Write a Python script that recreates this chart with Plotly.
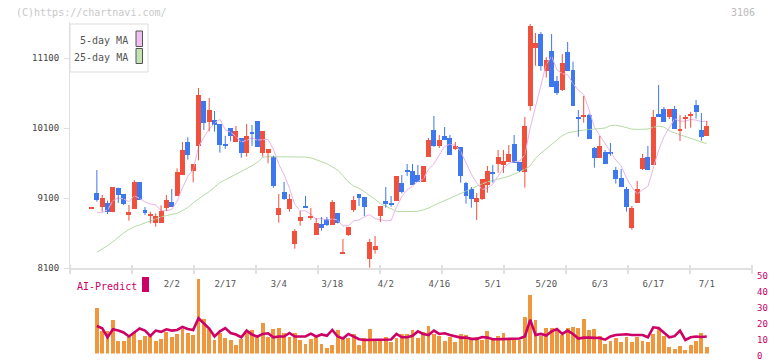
import plotly.graph_objects as go

W, H = 772, 361

# ---------------- data ----------------
tick_labels = ["2/2", "2/17", "3/4", "3/18", "4/2", "4/16", "5/1", "5/20", "6/3", "6/17", "7/1"]
tick_index = [15, 25, 35, 45, 55, 65, 75, 85, 95, 105, 115]
price_ticks = [8100, 9100, 10100, 11100]
price_tick_text = ["8100", "9100", "10100", "11100"]
ai_ticks = [0, 10, 20, 30, 40, 50]

opens = [8950, 9171, 8976, 9029, 8905, 9248, 9157, 8857, 8948, 9329,
         8929, 8848, 8748, 8748, 8962, 9043, 9133, 9433, 9900, 9490,
         9848, 10490, 10186, 10214, 10157, 9871, 10100, 9900, 9957, 9748,
         10043, 10200, 9748, 9748, 9690, 8862, 9186, 8948, 8448, 8776,
         8986, 8819, 8576, 8729, 8800, 8719, 8886, 8310, 8571, 8929,
         9157, 9114, 8233, 8362, 8843, 9057, 9029, 9062, 9314, 9500,
         9486, 9429, 9329, 9690, 10071, 9843, 9986, 9957, 9805, 9829,
         9314, 9229, 9048, 9086, 9290, 9471, 9586, 9576, 9614, 9871,
         9614, 9476, 10419, 11243, 11443, 10919, 11200, 10776, 10643, 11186,
         10929, 10257, 10252, 10290, 9814, 9676, 9757, 9757, 9500, 9386,
         9229, 8676, 9033, 9514, 9686, 9576, 10300, 10371, 10257, 10371,
         10062, 10233, 10276, 10429, 10071, 9990]
highs = [8965, 9500, 9143, 9062, 9257, 9248, 9157, 9000, 9357, 9329,
         8971, 8905, 8881, 8995, 9143, 9229, 9524, 9900, 9967, 9586,
         10671, 10490, 10529, 10343, 10157, 9986, 10100, 10129, 9957, 10157,
         10143, 10200, 10057, 9800, 9705, 9157, 9329, 9157, 8657, 8914,
         9129, 8957, 8814, 8829, 8829, 9071, 8886, 8514, 8690, 9129,
         9157, 9114, 8514, 8557, 8986, 9257, 9129, 9414, 9429, 9586,
         9586, 9571, 9557, 9957, 10271, 10000, 10114, 10000, 9900, 9829,
         9329, 9257, 9171, 9371, 9557, 9571, 9786, 9786, 9857, 10000,
         9614, 10257, 11586, 11457, 11471, 11114, 11443, 10843, 11157, 11329,
         11048, 10357, 10557, 10305, 9829, 9986, 9786, 9886, 9543, 9514,
         9257, 8986, 9343, 9729, 9843, 10357, 10714, 10400, 10371, 10414,
         10286, 10286, 10329, 10500, 10314, 10200]
lows = [8950, 9048, 8905, 8871, 8895, 9029, 9000, 8776, 8948, 9076,
        8857, 8738, 8690, 8748, 8914, 8976, 9133, 9433, 9648, 9324,
        9638, 10071, 10052, 10048, 9748, 9800, 9910, 9900, 9676, 9690,
        9843, 9833, 9690, 9595, 9248, 8748, 9071, 8905, 8376, 8705,
        8957, 8790, 8576, 8633, 8700, 8719, 8738, 8310, 8557, 8900,
        8986, 8843, 8105, 8305, 8757, 8962, 8976, 9062, 9167, 9414,
        9286, 9329, 9329, 9690, 9829, 9814, 9929, 9719, 9786, 9319,
        9019, 8962, 8786, 9071, 9176, 9319, 9462, 9457, 9614, 9605,
        9471, 9248, 10348, 10990, 10919, 10819, 10690, 10571, 10629, 10919,
        10419, 9976, 10176, 9948, 9533, 9676, 9590, 9705, 9305, 9262,
        8905, 8648, 9033, 9500, 9500, 9576, 10257, 10186, 10229, 10090,
        9914, 10090, 10105, 10233, 9919, 9990]
closes = [8960, 9076, 9105, 8905, 9257, 9148, 9019, 8900, 9329, 9076,
          8890, 8871, 8843, 8914, 9071, 8976, 9471, 9786, 9719, 9586,
          10571, 10176, 10357, 10148, 9862, 9848, 9981, 10057, 9748, 9986,
          10014, 9833, 10057, 9800, 9276, 8957, 9086, 9086, 8629, 8829,
          8962, 8829, 8743, 8671, 8719, 9043, 8748, 8319, 8690, 9071,
          9100, 8976, 8471, 8414, 8986, 9019, 9000, 9414, 9186, 9471,
          9286, 9329, 9557, 9929, 9843, 9929, 9929, 9719, 9843, 9414,
          9133, 9090, 9100, 9371, 9486, 9443, 9686, 9629, 9729, 9605,
          9486, 10129, 11557, 11314, 10986, 11071, 10690, 10605, 11029, 10919,
          10419, 10229, 10290, 9948, 9676, 9843, 9590, 9724, 9371, 9262,
          8971, 8957, 9229, 9671, 9500, 10257, 10257, 10186, 10371, 10090,
          10086, 10257, 10305, 10329, 9976, 10129]

ma5 = [None, 8895, 8895, 8930, 9061, 9098, 9087, 9046, 9131, 9094,
       9043, 9013, 9002, 8919, 8918, 8935, 9055, 9244, 9405, 9508,
       9827, 9968, 10082, 10168, 10223, 10078, 10039, 9979, 9899, 9924,
       9957, 9928, 9928, 9938, 9796, 9585, 9435, 9241, 9007, 8917,
       8918, 8867, 8798, 8807, 8785, 8801, 8785, 8700, 8704, 8774,
       8786, 8831, 8862, 8806, 8789, 8773, 8778, 8967, 9121, 9218,
       9271, 9337, 9366, 9514, 9589, 9717, 9837, 9870, 9853, 9767,
       9608, 9440, 9316, 9222, 9236, 9298, 9417, 9523, 9595, 9618,
       9627, 9716, 10101, 10418, 10694, 11011, 11124, 10933, 10876, 10863,
       10732, 10640, 10577, 10361, 10112, 9997, 9869, 9756, 9641, 9558,
       9384, 9257, 9158, 9218, 9266, 9523, 9783, 9974, 10114, 10232,
       10198, 10198, 10222, 10213, 10191, 10199]

ma25 = [None, 8324, 8370, 8420, 8475, 8540, 8600, 8650, 8690, 8715,
        8745, 8770, 8800, 8830, 8850, 8865, 8880, 8920, 8965, 9030,
        9090, 9140, 9190, 9260, 9320, 9360, 9400, 9440, 9480, 9515,
        9560, 9610, 9680, 9690, 9690, 9690, 9695, 9695, 9695, 9690,
        9685, 9675, 9650, 9625, 9590, 9545, 9500, 9420, 9330, 9270,
        9240, 9190, 9140, 9080, 9020, 8985, 8955, 8910, 8905, 8905,
        8905, 8910, 8930, 8955, 8995, 9030, 9060, 9090, 9130, 9160,
        9200, 9240, 9270, 9300, 9330, 9350, 9370, 9385, 9410, 9440,
        9475, 9510, 9560, 9670, 9740, 9800, 9860, 9930, 9990, 10030,
        10050, 10060, 10070, 10075, 10085, 10095, 10100, 10135, 10140, 10125,
        10100, 10085, 10080, 10080, 10085, 10110, 10125, 10115, 10060, 10030,
        10005, 9980, 9955, 9935, 9910, 9875]

ai_bars = [None, 28.7, 14.2, 14.2, 21.1, 7.9, 7.9, 10.4, 12.9, 8.5,
           11.0, 11.6, 7.9, 9.2, 13.5, 10.4, 12.3, 15.4, 12.9, 11.6,
           46.9, 21.7, 15.4, 8.5, 12.9, 9.8, 8.5, 5.4, 9.2, 12.9,
           14.8, 10.4, 19.2, 10.4, 15.4, 16.0, 12.9, 10.4, 12.9, 8.5,
           6.0, 9.2, 11.6, 6.0, 3.5, 5.4, 14.8, 9.8, 9.8, 12.3,
           5.4, 9.8, 15.4, 9.2, 8.2, 10.4, 7.0, 10.0, 12.3, 12.3,
           14.8, 9.8, 13.5, 17.3, 12.3, 11.0, 7.9, 10.4, 7.3, 12.3,
           11.6, 9.2, 10.4, 8.5, 14.2, 8.5, 11.0, 12.9, 9.8, 9.8,
           8.5, 23.0, 36.9, 21.1, 11.0, 16.0, 16.0, 14.8, 11.6, 16.0,
           16.7, 16.0, 21.7, 14.8, 15.4, 11.0, 6.0, 7.9, 9.8, 7.3,
           10.4, 7.3, 10.4, 7.9, 7.3, 12.3, 15.4, 11.0, 4.0, 2.8,
           4.7, 2.2, 5.4, 7.9, 12.9, 4.0]

ai_pred = [None, 17.3, 15.9, 10.2, 15.2, 14.4, 13.2, 10.7, 13.2, 15.7,
           14.4, 11.1, 14.4, 13.6, 15.2, 14.4, 14.8, 16.7, 15.4, 14.8,
           22.2, 19.0, 15.7, 10.7, 13.9, 16.0, 12.9, 11.9, 10.2, 14.4,
           11.9, 10.6, 12.3, 12.7, 10.2, 10.7, 10.7, 12.9, 10.7, 10.7,
           10.7, 12.5, 10.7, 12.0, 11.1, 14.8, 10.7, 9.4, 12.3, 10.7,
           9.0, 8.5, 8.5, 8.5, 8.5, 8.5, 8.8, 12.3, 10.2, 10.2,
           11.1, 13.9, 12.3, 11.6, 14.4, 12.3, 12.7, 11.6, 10.6, 10.0,
           10.0, 9.2, 9.2, 10.4, 10.0, 9.0, 9.0, 9.0, 9.4, 9.2,
           9.4, 10.7, 21.2, 11.6, 12.3, 11.3, 13.9, 15.4, 12.3, 14.4,
           12.3, 9.4, 10.0, 10.0, 10.0, 9.8, 8.7, 10.7, 11.6, 11.9,
           12.1, 11.6, 11.6, 11.6, 10.2, 16.5, 16.1, 13.2, 10.2, 10.9,
           14.4, 8.5, 10.2, 10.7, 10.4, 10.7]

idx = list(range(len(closes)))

# ---------------- helpers (pixel -> paper) ----------------
def fx(px):
    return px / W

def fy(py):
    return 1 - py / H

FONT = "DejaVu Sans Mono"
RED = "#f0503c"
BLUE = "#3d78ef"
PINK = "#e9b4ea"
GREEN = "#b5dba5"
CRIMSON = "#cc0066"
ORANGE = "#f0963c"
AXIS = "#e0e0e0"

fig = go.Figure()

# moving averages
fig.add_trace(go.Scatter(x=idx, y=ma25, mode="lines", line=dict(color=GREEN, width=1),
                         xaxis="x", yaxis="y", hoverinfo="skip"))
fig.add_trace(go.Scatter(x=idx, y=ma5, mode="lines", line=dict(color=PINK, width=1),
                         xaxis="x", yaxis="y", hoverinfo="skip"))

# candles
for up, col in ((True, RED), (False, BLUE)):
    sel = [i for i in idx if (closes[i] >= opens[i]) == up]
    wx, wy = [], []
    for i in sel:
        wx += [i, i, None]
        wy += [lows[i], highs[i], None]
    fig.add_trace(go.Scatter(x=wx, y=wy, mode="lines", line=dict(color=col, width=1),
                             xaxis="x", yaxis="y", hoverinfo="skip"))
    fig.add_trace(go.Bar(x=sel,
                         base=[min(opens[i], closes[i]) for i in sel],
                         y=[max(abs(closes[i] - opens[i]), 12) for i in sel],
                         width=0.93, marker=dict(color=col, line=dict(width=0)),
                         xaxis="x", yaxis="y", hoverinfo="skip"))

# AI predict panel
fig.add_trace(go.Bar(x=idx, y=ai_bars, width=0.72, marker=dict(color=ORANGE, line=dict(width=0)),
                     xaxis="x2", yaxis="y2", hoverinfo="skip"))
fig.add_trace(go.Scatter(x=idx, y=ai_pred, mode="lines", line=dict(color=CRIMSON, width=2.6),
                         xaxis="x2", yaxis="y2", hoverinfo="skip"))

xr = [(70 - 91.5) / 5.35, (752 - 91.5) / 5.35]

shapes = []
# x tick marks on the main axis
for k in range(12):
    px = 70 + 62 * k
    shapes.append(dict(type="line", xref="paper", yref="paper", x0=fx(px), x1=fx(px),
                       y0=fy(274), y1=fy(265), line=dict(color=AXIS, width=2)))
# legend box
shapes.append(dict(type="rect", xref="paper", yref="paper", x0=fx(70), x1=fx(148),
                   y0=fy(72), y1=fy(24), line=dict(color="#dddddd", width=1), fillcolor="white"))
shapes.append(dict(type="rect", xref="paper", yref="paper", x0=fx(136), x1=fx(142.5),
                   y0=fy(46.5), y1=fy(31), line=dict(color="#555555", width=1), fillcolor="#efc0ef"))
shapes.append(dict(type="rect", xref="paper", yref="paper", x0=fx(136), x1=fx(142.5),
                   y0=fy(63.5), y1=fy(48.5), line=dict(color="#555555", width=1), fillcolor="#c3e3b3"))
# AI-Predict marker
shapes.append(dict(type="rect", xref="paper", yref="paper", x0=fx(142), x1=fx(149),
                   y0=fy(292), y1=fy(277), line=dict(width=0), fillcolor=CRIMSON))

annotations = [
    dict(text="(C)https://chartnavi.com/", x=fx(14), y=fy(12), xref="paper", yref="paper",
         xanchor="left", yanchor="middle", showarrow=False,
         font=dict(family=FONT, size=10, color="#c8c8c8")),
    dict(text="3106", x=fx(757), y=fy(12), xref="paper", yref="paper",
         xanchor="right", yanchor="middle", showarrow=False,
         font=dict(family=FONT, size=10, color="#bbbbbb")),
    dict(text="5-day MA", x=fx(130), y=fy(40), xref="paper", yref="paper",
         xanchor="right", yanchor="middle", showarrow=False,
         font=dict(family=FONT, size=10, color="#555555")),
    dict(text="25-day MA", x=fx(130), y=fy(57), xref="paper", yref="paper",
         xanchor="right", yanchor="middle", showarrow=False,
         font=dict(family=FONT, size=10, color="#555555")),
    dict(text="AI-Predict", x=fx(75), y=fy(286), xref="paper", yref="paper",
         xanchor="left", yanchor="middle", showarrow=False,
         font=dict(family=FONT, size=10, color=CRIMSON)),
]

fig.update_layout(
    width=W, height=H, margin=dict(l=0, r=0, t=0, b=0, autoexpand=False),
    paper_bgcolor="white", plot_bgcolor="white",
    showlegend=False, hovermode=False, barmode="overlay", bargap=0,
    xaxis=dict(domain=[fx(70), fx(752)], range=xr, showgrid=False, zeroline=False,
               automargin=False,
               showline=True, linecolor=AXIS, linewidth=2,
               tickvals=tick_index, ticktext=tick_labels, ticks="",
               ticklabelstandoff=6,
               tickfont=dict(family=FONT, size=9, color="#555555")),
    yaxis=dict(domain=[fy(268), fy(22)], range=[8100, 8100 + 246 / 0.07],
               automargin=False,
               showgrid=False, zeroline=False, showline=True, linecolor=AXIS, linewidth=1,
               tickvals=price_ticks, ticktext=price_tick_text, ticks="outside", ticklen=5,
               tickcolor=AXIS, tickwidth=1, ticklabelstandoff=3,
               tickfont=dict(family=FONT, size=9, color="#444444")),
    xaxis2=dict(domain=[fx(70), fx(752)], range=xr, anchor="y2", visible=False,
                automargin=False),
    yaxis2=dict(domain=[fy(353.5), fy(274)], range=[0, 50], anchor="x2", side="right",
                automargin=False,
                showgrid=False, zeroline=False, showline=False, ticks="",
                tickvals=ai_ticks, ticklabelstandoff=4, ticklabelshift=2,
                ticklabeloverflow="allow",
                tickfont=dict(family=FONT, size=9, color=CRIMSON)),
    shapes=shapes, annotations=annotations,
)

fig.write_html("out.html")
